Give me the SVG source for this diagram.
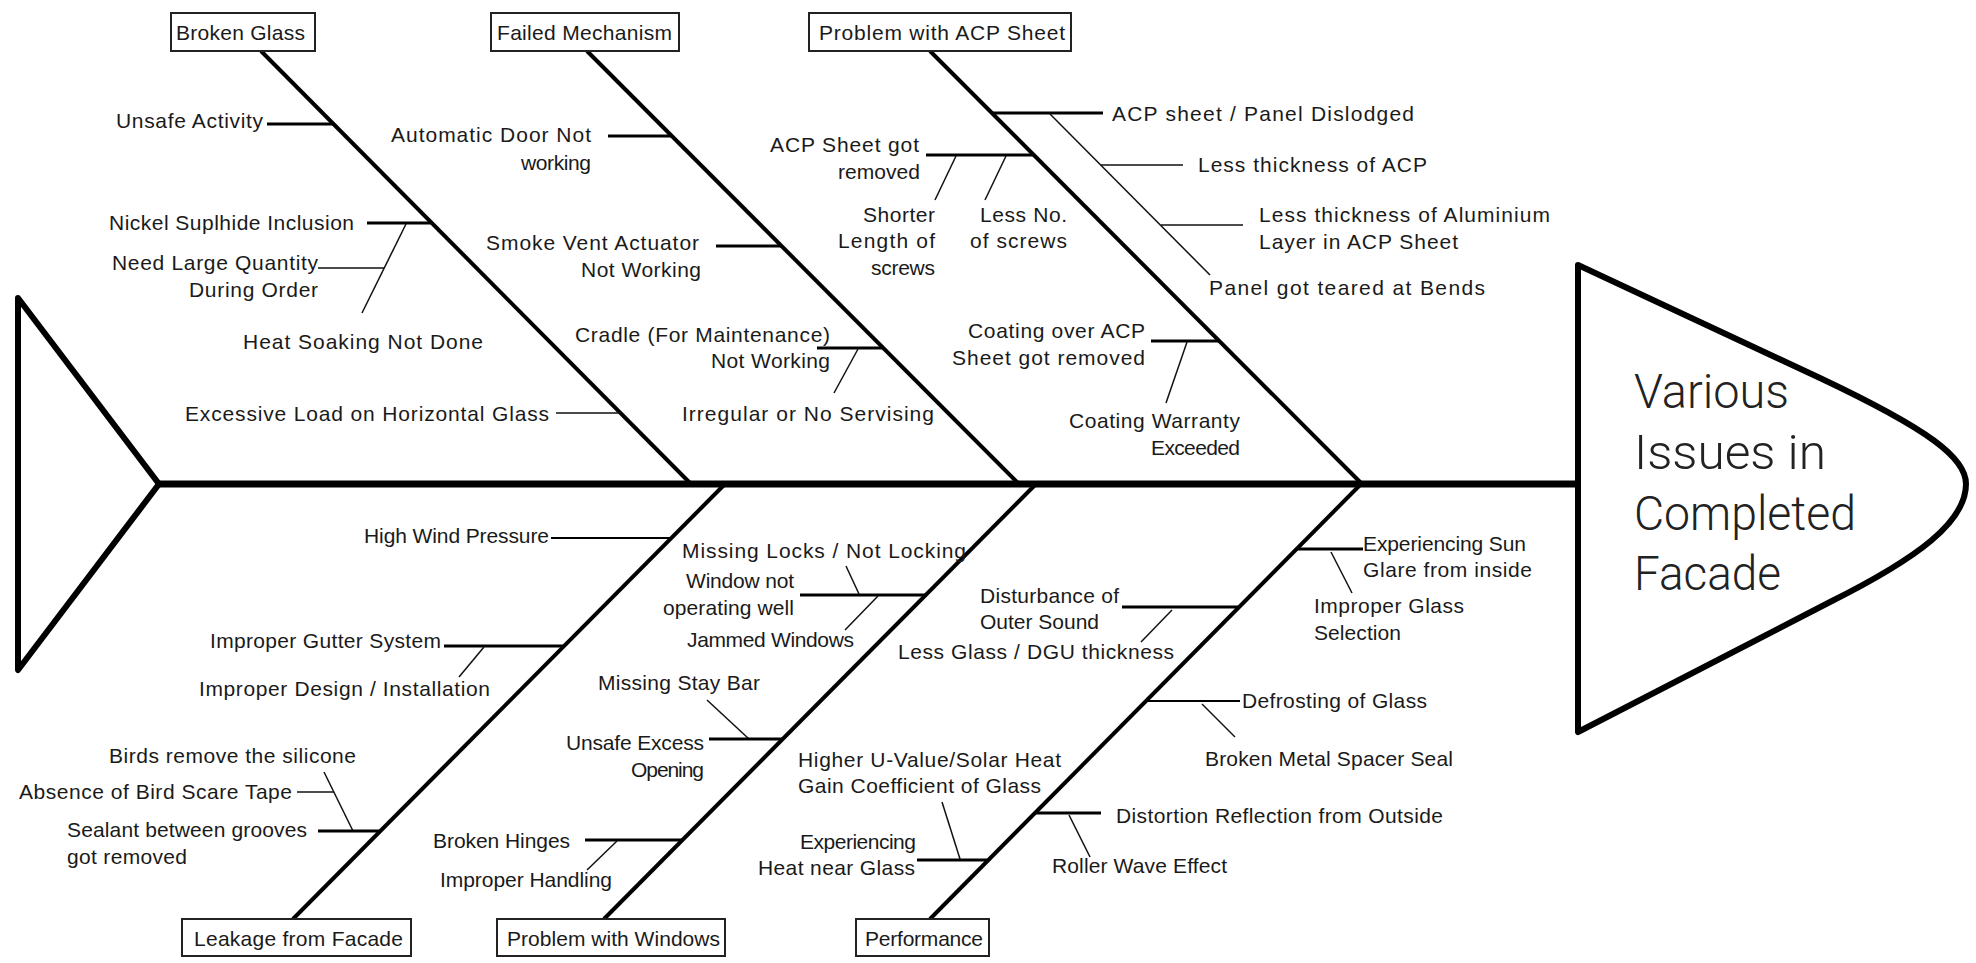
<svg xmlns="http://www.w3.org/2000/svg" width="1976" height="963" viewBox="0 0 1976 963">
<style>
  text { font-family: "Liberation Sans", Arial, sans-serif; font-size: 21px; fill: #1a1a1a; }
  .r { text-anchor: end; }
  .c { text-anchor: middle; }
  .title { font-family: Roboto, "Liberation Sans", sans-serif; font-weight: 300; font-size: 49px; fill: #222; }
  .outline { fill: #fff; stroke: #000; stroke-width: 6; stroke-linejoin: round; }
  .spine { stroke: #000; stroke-width: 7; fill: none; }
  .bone { stroke: #000; stroke-width: 4; fill: none; }
  .thick { stroke: #000; stroke-width: 3; fill: none; }
  .med { stroke: #000; stroke-width: 2; fill: none; }
  .thin { stroke: #111; stroke-width: 1.5; fill: none; }
  .box rect { fill: #fff; stroke: #222; stroke-width: 2; }
</style>
<rect width="1976" height="963" fill="#fff"/>

<g id="tail">
  <path class="outline" d="M18,298 L159,484 L18,670 Z"/>
</g>
<g id="head">
  <path class="outline" stroke-width="5" d="M1578,265 L1820,378 C1930,430 1966,458 1966,484 C1966,522 1918,558 1830,602 L1578,732 Z"/>
  <text class="title" x="1634" y="408" textLength="155" lengthAdjust="spacingAndGlyphs">Various</text>
  <text class="title" x="1634" y="469" textLength="192" lengthAdjust="spacingAndGlyphs">Issues in</text>
  <text class="title" x="1634" y="530" textLength="222" lengthAdjust="spacingAndGlyphs">Completed</text>
  <text class="title" x="1634" y="590" textLength="147" lengthAdjust="spacingAndGlyphs">Facade</text>
</g>

<g id="connectors">
  <line class="spine" x1="159" y1="484" x2="1578" y2="484"/>
  <!-- main bones -->
  <line class="bone" x1="261" y1="51" x2="690" y2="483"/>
  <line class="bone" x1="587" y1="51" x2="1018" y2="483"/>
  <line class="bone" x1="930" y1="51" x2="1361" y2="483"/>
  <line class="bone" x1="725" y1="484" x2="293" y2="919"/>
  <line class="bone" x1="1036" y1="484" x2="604" y2="919"/>
  <line class="bone" x1="1361" y1="484" x2="930" y2="919"/>
  <!-- Broken Glass -->
  <line class="thick" x1="267" y1="124" x2="334" y2="124"/>
  <line class="thick" x1="367" y1="223" x2="433" y2="223"/>
  <line class="thin" x1="406" y1="224" x2="362" y2="313"/>
  <line class="thin" x1="318" y1="268" x2="384" y2="268"/>
  <line class="thin" x1="556" y1="413" x2="621" y2="413"/>
  <!-- Failed Mechanism -->
  <line class="thick" x1="608" y1="136" x2="672" y2="136"/>
  <line class="thick" x1="716" y1="246" x2="782" y2="246"/>
  <line class="thick" x1="817" y1="348" x2="883" y2="348"/>
  <line class="thin" x1="858" y1="349" x2="834" y2="393"/>
  <!-- ACP -->
  <line class="thick" x1="992" y1="113" x2="1103" y2="113"/>
  <line class="thin" x1="1050" y1="114" x2="1210" y2="275"/>
  <line class="thin" x1="1101" y1="165" x2="1183" y2="165"/>
  <line class="thin" x1="1161" y1="225" x2="1243" y2="225"/>
  <line class="thick" x1="926" y1="155" x2="1034" y2="155"/>
  <line class="thin" x1="956" y1="156" x2="935" y2="200"/>
  <line class="thin" x1="1006" y1="156" x2="985" y2="200"/>
  <line class="thick" x1="1151" y1="341" x2="1219" y2="341"/>
  <line class="thin" x1="1187" y1="342" x2="1166" y2="403"/>
  <!-- Leakage -->
  <line class="med" x1="551" y1="538" x2="670" y2="538"/>
  <line class="thick" x1="444" y1="646" x2="563" y2="646"/>
  <line class="thin" x1="484" y1="647" x2="459" y2="677"/>
  <line class="thin" x1="297" y1="792" x2="334" y2="792"/>
  <line class="thin" x1="353" y1="831" x2="324" y2="772"/>
  <line class="thick" x1="318" y1="831" x2="381" y2="831"/>
  <!-- Windows -->
  <line class="thin" x1="846" y1="566" x2="859" y2="594"/>
  <line class="thick" x1="800" y1="595" x2="925" y2="595"/>
  <line class="thin" x1="878" y1="596" x2="845" y2="630"/>
  <line class="thin" x1="707" y1="700" x2="749" y2="739"/>
  <line class="thick" x1="709" y1="739" x2="782" y2="739"/>
  <line class="thick" x1="585" y1="840" x2="682" y2="840"/>
  <line class="thin" x1="617" y1="841" x2="587" y2="870"/>
  <!-- Performance -->
  <line class="thick" x1="1296" y1="549" x2="1363" y2="549"/>
  <line class="thin" x1="1331" y1="552" x2="1352" y2="593"/>
  <line class="thick" x1="1122" y1="607" x2="1238" y2="607"/>
  <line class="thin" x1="1172" y1="610" x2="1141" y2="642"/>
  <line class="med" x1="1146" y1="701" x2="1240" y2="701"/>
  <line class="thin" x1="1202" y1="704" x2="1235" y2="737"/>
  <line class="thick" x1="1035" y1="813" x2="1101" y2="813"/>
  <line class="thin" x1="1069" y1="815" x2="1090" y2="857"/>
  <line class="thick" x1="917" y1="860" x2="988" y2="860"/>
  <line class="thin" x1="942" y1="802" x2="960" y2="859"/>
</g>

<!-- category boxes -->
<g id="cat-broken-glass" class="box"><rect x="171" y="13" width="144" height="38"/><text x="176" y="40" textLength="129">Broken Glass</text></g>
<g id="cat-failed-mechanism" class="box"><rect x="491" y="13" width="188" height="38"/><text x="497" y="40" textLength="175">Failed Mechanism</text></g>
<g id="cat-acp-sheet" class="box"><rect x="809" y="13" width="262" height="38"/><text x="819" y="40" textLength="246">Problem with ACP Sheet</text></g>
<g id="cat-leakage" class="box"><rect x="182" y="919" width="229" height="37"/><text x="194" y="946" textLength="209">Leakage from Facade</text></g>
<g id="cat-windows" class="box"><rect x="497" y="919" width="228" height="37"/><text x="507" y="946" textLength="213">Problem with Windows</text></g>
<g id="cat-performance" class="box"><rect x="856" y="919" width="133" height="37"/><text x="865" y="946" textLength="118">Performance</text></g>

<!-- Broken Glass causes -->
<g id="c-unsafe-activity"><text x="116" y="128" textLength="147">Unsafe Activity</text></g>
<g id="c-nickel"><text x="109" y="230" textLength="245">Nickel Suplhide Inclusion</text></g>
<g id="c-large-qty"><text x="112" y="270" textLength="206">Need Large Quantity</text><text x="189" y="297" textLength="129">During Order</text></g>
<g id="c-heat-soak"><text x="243" y="349" textLength="240">Heat Soaking Not Done</text></g>
<g id="c-excess-load"><text x="185" y="421" textLength="364">Excessive Load on Horizontal Glass</text></g>

<!-- Failed Mechanism causes -->
<g id="c-auto-door"><text x="391" y="142" textLength="200">Automatic Door Not</text><text x="521" y="170" textLength="70">working</text></g>
<g id="c-smoke-vent"><text x="486" y="250" textLength="213">Smoke Vent Actuator</text><text x="581" y="277" textLength="120">Not Working</text></g>
<g id="c-cradle"><text x="575" y="342" textLength="255">Cradle (For Maintenance)</text><text x="711" y="368" textLength="119">Not Working</text></g>
<g id="c-servicing"><text x="682" y="421" textLength="252">Irregular or No Servising</text></g>

<!-- ACP causes -->
<g id="c-dislodged"><text x="1112" y="121" textLength="302">ACP sheet / Panel Dislodged</text></g>
<g id="c-less-acp"><text x="1198" y="172" textLength="229">Less thickness of ACP</text></g>
<g id="c-less-al"><text x="1259" y="222" textLength="291">Less thickness of Aluminium</text><text x="1259" y="249" textLength="199">Layer in ACP Sheet</text></g>
<g id="c-teared"><text x="1209" y="295" textLength="276">Panel got teared at Bends</text></g>
<g id="c-acp-removed"><text x="770" y="152" textLength="149">ACP Sheet got</text><text x="838" y="179" textLength="82">removed</text></g>
<g id="c-short-screws"><text x="863" y="222" textLength="72">Shorter</text><text x="838" y="248" textLength="97">Length of</text><text x="871" y="275" textLength="64">screws</text></g>
<g id="c-less-screws"><text x="980" y="222" textLength="87">Less No.</text><text x="970" y="248" textLength="97">of screws</text></g>
<g id="c-coating"><text x="968" y="338" textLength="177">Coating over ACP</text><text x="952" y="365" textLength="193">Sheet got removed</text></g>
<g id="c-warranty"><text x="1069" y="428" textLength="171">Coating Warranty</text><text x="1151" y="455" textLength="89">Exceeded</text></g>

<!-- Leakage causes -->
<g id="c-wind"><text x="364" y="543" textLength="185">High Wind Pressure</text></g>
<g id="c-gutter"><text x="210" y="648" textLength="231">Improper Gutter System</text></g>
<g id="c-design"><text x="199" y="696" textLength="291">Improper Design / Installation</text></g>
<g id="c-birds"><text x="109" y="763" textLength="247">Birds remove the silicone</text></g>
<g id="c-bird-tape"><text x="19" y="799" textLength="273">Absence of Bird Scare Tape</text></g>
<g id="c-sealant"><text x="67" y="837" textLength="240">Sealant between grooves</text><text x="67" y="864" textLength="120">got removed</text></g>

<!-- Windows causes -->
<g id="c-locks"><text x="682" y="558" textLength="284">Missing Locks / Not Locking</text></g>
<g id="c-window-op"><text x="686" y="588" textLength="108">Window not</text><text x="663" y="615" textLength="131">operating well</text></g>
<g id="c-jammed"><text x="687" y="647" textLength="167">Jammed Windows</text></g>
<g id="c-stay-bar"><text x="598" y="690" textLength="162">Missing Stay Bar</text></g>
<g id="c-unsafe-opening"><text x="566" y="750" textLength="138">Unsafe Excess</text><text x="631" y="777" textLength="73">Opening</text></g>
<g id="c-hinges"><text x="433" y="848" textLength="137">Broken Hinges</text></g>
<g id="c-handling"><text x="440" y="887" textLength="172">Improper Handling</text></g>

<!-- Performance causes -->
<g id="c-sun-glare"><text x="1363" y="551" textLength="163">Experiencing Sun</text><text x="1363" y="577" textLength="169">Glare from inside</text></g>
<g id="c-glass-sel"><text x="1314" y="613" textLength="150">Improper Glass</text><text x="1314" y="640" textLength="87">Selection</text></g>
<g id="c-sound"><text x="980" y="603" textLength="139">Disturbance of</text><text x="980" y="629" textLength="119">Outer Sound</text></g>
<g id="c-dgu"><text x="898" y="659" textLength="276">Less Glass / DGU thickness</text></g>
<g id="c-defrost"><text x="1242" y="708" textLength="185">Defrosting of Glass</text></g>
<g id="c-spacer"><text x="1205" y="766" textLength="248">Broken Metal Spacer Seal</text></g>
<g id="c-distortion"><text x="1116" y="823" textLength="327">Distortion Reflection from Outside</text></g>
<g id="c-roller"><text x="1052" y="873" textLength="175">Roller Wave Effect</text></g>
<g id="c-uvalue"><text x="798" y="767" textLength="263">Higher U-Value/Solar Heat</text><text x="798" y="793" textLength="243">Gain Coefficient of Glass</text></g>
<g id="c-heat"><text x="800" y="849" textLength="116">Experiencing</text><text x="758" y="875" textLength="157">Heat near Glass</text></g>
</svg>
